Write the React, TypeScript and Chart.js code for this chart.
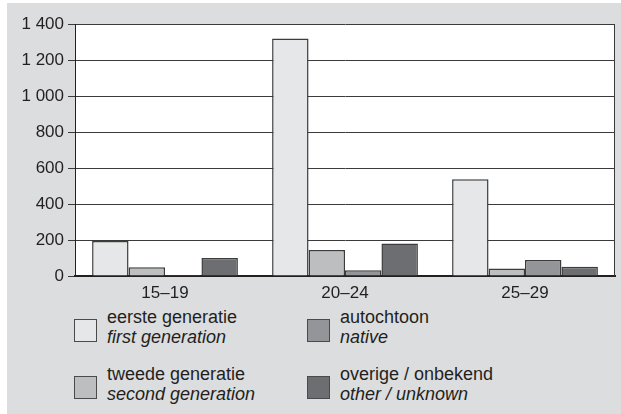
import React, { useEffect, useRef } from "react";
import { Chart, registerables } from "chart.js";

Chart.register(...registerables);

const categories = ["15–19", "20–24", "25–29"];
const firstGeneration = [195, 1320, 537];
const secondGeneration = [48, 144, 41];
const native = [6, 32, 89];
const otherUnknown = [100, 181, 52];

const seriesNl = ["eerste generatie", "tweede generatie", "autochtoon", "overige / onbekend"];
const seriesEn = ["first generation", "second generation", "native", "other / unknown"];
const seriesColors = ["#e6e7e8", "#bcbec0", "#939598", "#6d6e71"];
const seriesValues = [firstGeneration, secondGeneration, native, otherUnknown];

const yMin = 0;
const yMax = 1400;
const yStep = 200;

const BG = "#dcdddf";
const INK = "#231f20";
const FONT = "'Liberation Sans', Arial, Helvetica, sans-serif";

const plotFrame = {
  id: "plotFrame",
  beforeDraw(chart: any) {
    const { ctx, chartArea } = chart;
    ctx.save();
    ctx.fillStyle = "#ffffff";
    ctx.fillRect(chartArea.left, chartArea.top, chartArea.right - chartArea.left, chartArea.bottom - chartArea.top);
    ctx.restore();
  },
  afterDraw(chart: any) {
    const { ctx, chartArea } = chart;
    ctx.save();
    ctx.strokeStyle = "#3a3a3a";
    ctx.lineWidth = 1;
    ctx.beginPath();
    ctx.moveTo(Math.round(chartArea.right) - 0.5, chartArea.top);
    ctx.lineTo(Math.round(chartArea.right) - 0.5, chartArea.bottom);
    ctx.stroke();
    ctx.restore();
  },
};

export default function App() {
  const ref = useRef<HTMLCanvasElement | null>(null);

  useEffect(() => {
    if (!ref.current) return;
    const chart = new Chart(ref.current, {
      type: "bar",
      data: {
        labels: categories,
        datasets: seriesValues.map((vals, i) => ({
          label: seriesNl[i],
          data: vals,
          backgroundColor: seriesColors[i],
          borderColor: "#3c3c3c",
          borderWidth: 1.5,
          categoryPercentage: 0.81,
          barPercentage: 1,
        })),
      },
      options: {
        responsive: false,
        animation: false,
        layout: { padding: { top: 21, right: 6, left: 0, bottom: 0 } },
        plugins: { legend: { display: false }, tooltip: { enabled: false } },
        scales: {
          x: {
            grid: { display: false, drawTicks: false },
            border: { display: true, color: INK, width: 2 },
            ticks: { color: INK, padding: 7, font: { family: FONT, size: 17 } },
            afterFit: (s: any) => {
              s.height = 27;
            },
          },
          y: {
            min: yMin,
            max: yMax,
            grid: { color: "#3a3a3a", lineWidth: 1, tickLength: 7, drawTicks: true },
            border: { display: true, color: INK, width: 1 },
            ticks: {
              stepSize: yStep,
              color: INK,
              padding: 4,
              font: { family: FONT, size: 17 },
              callback: (v: any) => {
                const n = Number(v);
                return n >= 1000 ? `${Math.floor(n / 1000)} ${String(n % 1000).padStart(3, "0")}` : String(n);
              },
            },
            afterFit: (s: any) => {
              s.width = 68;
            },
          },
        },
      },
      plugins: [plotFrame],
    });
    return () => chart.destroy();
  }, []);

  const colLeft = [67, 300];
  const rowTop = [315.5, 373];
  const order = [
    [0, 0],
    [0, 1],
    [1, 0],
    [1, 1],
  ];

  return (
    <div
      style={{
        position: "absolute",
        left: 7,
        top: 3,
        width: 614,
        height: 411,
        background: BG,
        fontFamily: FONT,
        color: INK,
      }}
    >
      <canvas ref={ref} width={614} height={300} style={{ display: "block" }} />
      {seriesNl.map((nl, i) => {
        const [c, r] = order[i];
        return (
          <div key={nl}>
            <div
              style={{
                position: "absolute",
                left: colLeft[c],
                top: rowTop[r],
                width: 21,
                height: 21,
                background: seriesColors[i],
                border: "1px solid #4a4a4a",
              }}
            />
            <div
              style={{
                position: "absolute",
                left: colLeft[c] + 33,
                top: rowTop[r] - 12,
                fontSize: 18,
                lineHeight: "20px",
                whiteSpace: "nowrap",
              }}
            >
              <div>{nl}</div>
              <div style={{ fontStyle: "italic" }}>{seriesEn[i]}</div>
            </div>
          </div>
        );
      })}
    </div>
  );
}
